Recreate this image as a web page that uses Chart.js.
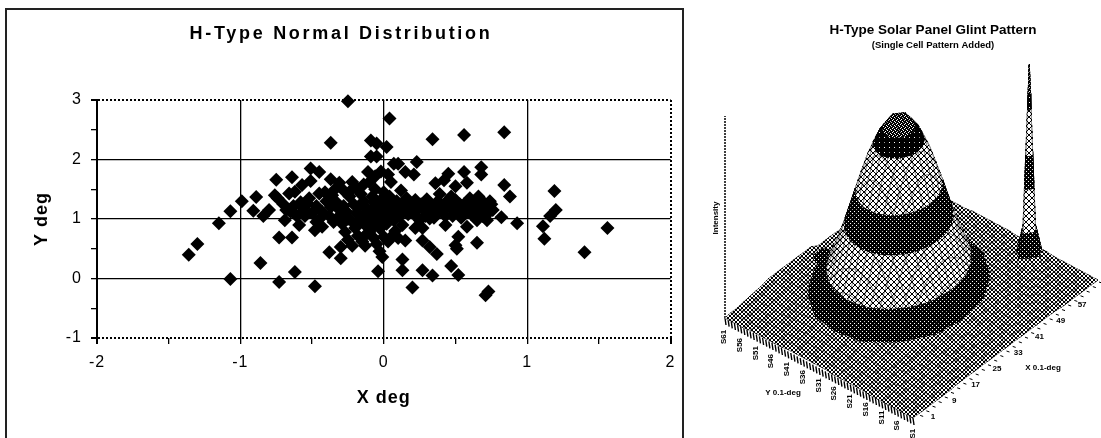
<!DOCTYPE html>
<html><head><meta charset="utf-8">
<style>
html,body{margin:0;background:#fff;overflow:hidden;width:1101px;height:438px}
#frame{position:absolute;left:5px;top:8px;width:675px;height:460px;border:2px solid #222}
#wrapL{position:absolute;left:0;top:0;width:684px;height:438px}
#wrapR{position:absolute;left:690px;top:0;width:486px;height:438px}
canvas{display:block}
#left{filter:blur(.3px)}
#right{filter:blur(.4px)}
</style>
<script src="https://cdn.jsdelivr.net/npm/chart.js@4/dist/chart.umd.min.js"></script>
</head><body>
<div id="frame"></div>
<div id="wrapL"><canvas id="left" width="684" height="438"></canvas></div>
<div id="wrapR"><canvas id="right" width="486" height="438"></canvas></div>
<script>
// ---------- left chart data ----------
const scatterX = [
-1.36,-1.30,-1.15,-1.07,-1.07,-.99,-.91,-.89,-.86,-.84,
-.80,-.76,-.75,-.74,-.73,-.73,-.69,-.68,-.66,-.65,
-.64,-.64,-.62,-.62,-.61,-.59,-.57,-.57,-.53,-.52,
-.51,-.51,-.48,-.48,-.47,-.45,-.45,-.43,-.40,-.38,
-.38,-.37,-.37,-.37,-.36,-.35,-.33,-.31,-.31,-.30,
-.30,-.29,-.28,-.27,-.26,-.25,-.25,-.24,-.23,-.22,
-.22,-.21,-.20,-.19,-.18,-.16,-.15,-.14,-.14,-.13,
-.12,-.11,-.11,-.10,-.10,-.09,-.09,-.09,-.08,-.07,
-.06,-.06,-.05,-.05,-.05,-.05,-.04,-.04,-.03,-.03,
-.02,-.02,-.01,.00,.00,.00,.01,.02,.02,.03,
.03,.03,.04,.04,.05,.06,.06,.07,.07,.08,
.09,.10,.10,.10,.11,.12,.13,.13,.13,.15,
.15,.16,.18,.20,.20,.21,.22,.22,.23,.24,
.25,.26,.27,.27,.27,.28,.30,.32,.32,.33,
.34,.34,.34,.35,.36,.37,.37,.39,.41,.42,
.43,.44,.45,.46,.47,.48,.50,.50,.50,.51,
.52,.52,.52,.54,.56,.56,.56,.58,.58,.58,
.60,.62,.64,.65,.65,.66,.68,.68,.68,.70,
.71,.72,.72,.73,.74,.75,.76,.82,.84,.84,
.88,.93,1.11,1.12,1.16,1.19,1.20,1.40,1.56,
-.58,-.55,-.50,-.47,-.43,-.41,-.34,-.32,-.28,-.25,
-.23,-.19,-.17,-.15,-.13,-.09,-.07,-.05,-.02,-.01,
.02,.05,.08,.12,.14,.17,.23,.29,.31,.38,
.40,.43,.47,.49,.53,.55,.61,.63,.67,.69,
-.70,-.63,-.56,-.44,-.18,-.12,-.08,-.01];
const scatterY = [
.40,.58,.93,1.13,-.01,1.30,1.14,1.37,.26,1.05,
1.15,1.40,1.66,1.35,.69,-.06,.98,1.15,1.43,1.12,
1.70,.69,1.46,.11,1.06,.90,1.57,1.12,1.26,1.35,
1.85,1.64,.81,-.13,.95,1.79,1.43,.87,1.30,1.05,
.44,2.28,1.67,1.20,1.40,.95,1.28,1.61,1.05,.53,
.34,.92,1.48,.78,1.12,2.98,.65,1.38,.98,1.62,
.55,1.25,.85,1.52,.72,1.42,.62,1.58,1.30,.55,
1.18,1.79,1.05,1.62,.78,2.32,2.05,.95,1.38,.68,
1.72,1.50,2.27,2.05,1.22,.58,1.10,.12,.85,.46,
1.80,1.32,.36,1.45,1.15,.70,1.02,2.21,.92,1.75,
1.25,.62,2.69,1.38,1.62,1.10,.72,1.93,.98,.80,
1.30,1.93,1.18,.68,1.05,1.48,.90,.32,.14,1.79,
.64,1.35,1.22,1.10,-.15,1.75,1.32,.85,1.96,1.02,
.98,1.25,.85,.64,.14,1.15,1.33,1.01,.53,1.20,
2.34,1.12,.05,1.02,1.60,1.28,.41,1.42,1.12,1.65,
.90,1.30,1.76,1.20,.21,1.05,1.55,1.32,.56,.50,
1.15,.70,.06,1.02,2.41,1.79,1.25,1.61,1.12,.87,
1.35,1.22,1.10,.98,.60,1.38,1.87,1.75,1.32,1.18,
-.28,1.08,.98,-.22,1.30,1.25,1.15,1.03,2.46,1.57,
1.38,.93,.88,.67,1.05,1.47,1.15,.44,.85,
1.28,1.05,1.10,1.22,1.12,1.45,1.50,1.18,1.22,1.00,
1.48,1.10,1.22,1.05,.90,1.12,1.28,.98,1.05,1.22,
1.12,1.28,1.18,1.15,1.25,1.08,1.15,1.05,1.22,1.12,
1.25,1.05,1.38,1.15,1.25,1.12,1.08,1.30,1.20,1.05,
1.25,1.22,1.18,1.02,.95,.75,.85,.88];

// ---------- right chart data ----------
// Surface heights, by cell distance from the main peak (rows: Y, columns: X)
const peakHeights = [
[178,175,165,150,130,105,78,55,34,19,9,6,4,3,2,2],
[175,171,162,147,127,102,76,53,33,18,9,6,4,3,2,2],
[165,162,153,138,118,94,70,49,30,17,8,5,4,3,2,2],
[150,147,138,124,105,83,62,43,26,15,8,5,4,3,2,2],
[130,127,118,105,87,68,50,33,20,11,7,5,3,2,2,1],
[105,102,94,83,68,53,37,25,15,8,5,4,3,2,2,1],
[78,76,70,62,50,37,26,17,9,6,5,4,3,2,2,1],
[55,53,49,43,33,25,17,10,7,5,4,3,2,2,1,1],
[34,33,30,26,20,15,9,7,5,4,3,2,2,2,1,1],
[19,18,17,15,11,8,6,5,4,3,2,2,2,1,1,1],
[9,9,8,8,7,5,5,4,3,2,2,2,1,1,1,0],
[6,6,5,5,5,4,4,3,2,2,2,1,1,1,1,0],
[4,4,4,4,3,3,3,2,2,2,1,1,1,1,0,0],
[3,3,3,3,2,2,2,2,2,1,1,1,1,0,0,0],
[2,2,2,2,2,2,2,2,1,1,1,1,0,0,0,0],
[2,2,2,2,1,1,1,1,1,1,1,0,0,0,0,0],
[1,1,1,1,1,1,1,1,1,1,0,0,0,0,0,0],
[1,1,1,1,1,1,1,1,1,0,0,0,0,0,0,0]];
const spikeHeights = [[8,30,8],[30,195,30],[8,30,8]];
// raised back-left shoulder of the surface (rows: Y cells 26..30, columns: X cells 0..14)
const shoulderHeights = [
[0,0,1,1,2,3,4,6,7,7,7,7,7,12,12],
[0,1,1,2,3,4,5,7,7,7,7,7,7,12,12],
[0,1,1,2,3,4,6,7,7,7,7,7,7,11,11],
[0,1,1,2,3,4,6,7,7,7,7,7,7,7,7],
[0,1,1,2,3,4,5,7,7,7,7,7,7,7,7]];
const xCategoryLabels = ['1','9','17','25','33','41','49','57'];
const yCategoryLabels = ['S61','S56','S51','S46','S41','S36','S31','S26','S21','S16','S11','S6','S1'];
const bandEdges = [0,8,30,72,105,150,165,1000];

const FONT = '"Liberation Sans", Arial, sans-serif';

// ---------- left chart ----------
const isInt = v => Math.abs(v - Math.round(v)) < 1e-6;
new Chart(document.getElementById('left'), {
  type: 'scatter',
  data: { datasets: [{
    label: 'H-Type',
    data: scatterX.map((x, k) => ({ x, y: scatterY[k] })),
    pointStyle: 'rectRot', pointRadius: 7,
    pointBackgroundColor: '#000', pointBorderColor: '#000', pointBorderWidth: 0, clip: false
  }]},
  options: {
    responsive: false, animation: false, events: [],
    layout: { padding: { right: 11 }, autoPadding: false },
    plugins: {
      legend: { display: false }, tooltip: { enabled: false },
      title: { display: true, text: 'H-Type Normal Distribution', color: '#000',
        font: { family: FONT, size: 18, weight: 'bold', lineHeight: 1 }, padding: { top: 25, bottom: 57 } }
    },
    scales: {
      x: { type: 'linear', min: -2, max: 2,
        afterFit: s => { s.height = 100; },
        ticks: { stepSize: .5, autoSkip: false, maxRotation: 0, padding: 9, color: '#000',
          font: { family: FONT, size: 16 }, callback: v => isInt(v) ? String(v) : '' },
        grid: { color: c => isInt(c.tick.value) ? '#000' : 'rgba(0,0,0,0)', lineWidth: c => Math.abs(c.tick.value) === 2 ? 2 : 1.3, tickColor: '#000', tickLength: 6 },
        border: { display: false, dash: c => c.tick && c.tick.value === 2 ? [2, 2] : [] },
        title: { display: true, text: 'X deg', color: '#000', font: { family: FONT, size: 18, weight: 'bold' }, padding: { top: 0, bottom: 29 } } },
      y: { type: 'linear', min: -1, max: 3,
        afterFit: s => { s.width = 97; },
        ticks: { stepSize: .5, autoSkip: false, padding: 9, color: '#000',
          font: { family: FONT, size: 16 }, callback: v => isInt(v) ? String(v) : '' },
        grid: { color: c => isInt(c.tick.value) ? '#000' : 'rgba(0,0,0,0)', lineWidth: c => (c.tick.value === 3 || c.tick.value === -1) ? 2 : 1.3, tickColor: '#000', tickLength: 6 },
        border: { display: true, color: '#000', width: 2, dash: c => c.tick && (c.tick.value === 3 || c.tick.value === -1) ? [2, 2] : [] },
        title: { display: true, text: 'Y deg', color: '#000', font: { family: FONT, size: 18, weight: 'bold' }, padding: { top: 31, bottom: 0 } } }
    }
  },
  plugins: [{
    id: 'spacing',
    beforeDraw(chart) {
      chart.ctx.letterSpacing = '1px';
      const t = chart.titleBlock;
      if (t && !t._patched) {
        const d = t.draw.bind(t);
        t.draw = a => { chart.ctx.save(); chart.ctx.translate(4.5, 0); chart.ctx.letterSpacing = '2.7px'; d(a); chart.ctx.restore(); };
        t._patched = true;
      }
    }
  }]
});

// ---------- right chart: surface ----------
const CELLS = 30, PEAK_I = 15, PEAK_J = 17, SPIKE_I = 28, SPIKE_J = 9, SHOULDER_J = 26;
const FRONT = { x: 913, y: 418 }, RIGHT = { x: 1098, y: 280 }, LEFTC = { x: 725, y: 318 };
function heightAt(i, j) {
  let h = peakHeights[Math.abs(j - PEAK_J)][Math.abs(i - PEAK_I)];
  const a = i - SPIKE_I + 1, b = j - SPIKE_J + 1;
  if (a >= 0 && a < 3 && b >= 0 && b < 3) h = Math.max(h, spikeHeights[b][a]);
  if (j >= SHOULDER_J && i < 15) h = Math.max(h, shoulderHeights[j - SHOULDER_J][i]);
  return h;
}
function project(i, j, h) {
  return {
    x: FRONT.x + i / CELLS * (RIGHT.x - FRONT.x) + j / CELLS * (LEFTC.x - FRONT.x),
    y: FRONT.y + i / CELLS * (RIGHT.y - FRONT.y) + j / CELLS * (LEFTC.y - FRONT.y) - h,
    h
  };
}
function tile(rows) {
  const c = document.createElement('canvas');
  c.width = rows[0].length; c.height = rows.length;
  const g = c.getContext('2d');
  g.fillStyle = '#fff'; g.fillRect(0, 0, c.width, c.height);
  g.fillStyle = '#000';
  rows.forEach((r, y) => [...r].forEach((ch, x) => { if (ch === '#') g.fillRect(x, y, 1, 1); }));
  return g.createPattern(c, 'repeat');
}
const pBase  = tile(['#..#','.##.','.##.','#..#']);
const pLight = tile(['#....#','.#..#.','..##..','..##..','.#..#.','#....#']);
const pDark  = tile(['####','##.#','####','.###']);
const pSolid = tile(['#####','#####','####.','#####','#####']);
const pCap   = tile(['##.#','.###','#.##','###.']);
const bandPatterns = [pBase, pDark, pLight, pDark, pLight, pSolid, pCap];

function clipBand(poly, lo, hi) {
  const cut = (pts, keep, lim) => {
    const out = [];
    pts.forEach((p, k) => {
      const q = pts[(k + 1) % pts.length];
      if (keep(p.h)) out.push(p);
      if (keep(p.h) !== keep(q.h)) {
        const t = (lim - p.h) / (q.h - p.h);
        out.push({ x: p.x + t * (q.x - p.x), y: p.y + t * (q.y - p.y), h: lim });
      }
    });
    return out;
  };
  let r = cut(poly, h => h >= lo, lo);
  if (r.length) r = cut(r, h => h <= hi, hi);
  return r;
}
const surfaceSets = [];
const quads = [];
for (let j = 0; j < CELLS; j++) for (let i = 0; i < CELLS; i++) quads.push([i, j]);
quads.sort((a, b) => (a[0] + a[1]) - (b[0] + b[1]));
for (const [i, j] of quads) {
  const poly = [[i, j], [i + 1, j], [i + 1, j + 1], [i, j + 1]].map(([a, b]) => project(a, b, heightAt(a, b)));
  surfaceSets.push({ data: [...poly, poly[0]], showLine: true, fill: false, borderColor: 'rgba(0,0,0,.7)', borderWidth: .6, pointRadius: 0, clip: false });
  bandPatterns.forEach((pat, b) => {
    const piece = clipBand(poly, bandEdges[b], bandEdges[b + 1]);
    if (piece.length > 2) surfaceSets.push({ data: [...piece, piece[0]], showLine: true, fill: 'shape', backgroundColor: pat, borderColor: pat, borderWidth: .8, pointRadius: 0, clip: false });
  });
}
// comb along the front edges and the intensity axis
const comb = [];
for (let k = 0; k <= CELLS * 2; k++) {
  const p = project(0, k / 2, 0);
  comb.push({ x: p.x, y: p.y }, { x: p.x + 1, y: p.y + 7 }, { x: NaN, y: NaN });
}
const comb2 = [];
for (let k = 1; k <= CELLS; k++) {
  const p = project(k, 0, 0);
  comb2.push({ x: p.x + 1, y: p.y + 2 }, { x: p.x + 4, y: p.y + 3 }, { x: NaN, y: NaN });
}
const axisTop = project(0, CELLS, 0);
const intensityAxis = [{ x: axisTop.x, y: axisTop.y }, { x: axisTop.x, y: axisTop.y - 202 }];

new Chart(document.getElementById('right'), {
  type: 'scatter',
  data: { datasets: [
    ...surfaceSets,
    { data: comb, showLine: true, borderColor: '#000', borderWidth: 1.4, pointRadius: 0, spanGaps: false, clip: false },
    { data: comb2, showLine: true, borderColor: '#000', borderWidth: 1, pointRadius: 0, spanGaps: false, clip: false },
    { data: intensityAxis, showLine: true, borderColor: '#000', borderWidth: 1.5, borderDash: [2, 1], pointRadius: 0, clip: false }
  ]},
  options: {
    responsive: false, animation: false, events: [],
    layout: { padding: 0, autoPadding: false },
    plugins: {
      legend: { display: false }, tooltip: { enabled: false },
      title: { display: true, text: 'H-Type Solar Panel Glint Pattern', color: '#000',
        font: { family: FONT, size: 13.5, weight: 'bold', lineHeight: 1 }, padding: { top: 24, bottom: 2.5 } },
      subtitle: { display: true, text: '(Single Cell Pattern Added)', color: '#000',
        font: { family: FONT, size: 9.5, weight: 'bold', lineHeight: 1 }, padding: { top: 1, bottom: 9.5 } }
    },
    scales: {
      x: { type: 'linear', display: false, min: 690, max: 1176 },
      y: { type: 'linear', display: false, min: 60, max: 438, reverse: true }
    }
  },
  plugins: [{
    id: 'surfaceLabels',
    afterDatasetsDraw(chart) {
      const g = chart.ctx, sx = chart.scales.x, sy = chart.scales.y;
      g.save();
      g.fillStyle = '#000';
      g.font = 'bold 8px ' + FONT;
      g.textAlign = 'center'; g.textBaseline = 'middle';
      xCategoryLabels.forEach((t, k) => g.fillText(t, sx.getPixelForValue(933 + 21.3 * k), sy.getPixelForValue(417 - 16 * k)));
      yCategoryLabels.forEach((t, k) => {
        g.save();
        g.translate(sx.getPixelForValue(724 + 15.75 * k), sy.getPixelForValue(337 + 8.05 * k));
        g.rotate(-Math.PI / 2);
        g.fillText(t, 0, 0);
        g.restore();
      });
      g.fillText('Y 0.1-deg', sx.getPixelForValue(783), sy.getPixelForValue(393));
      g.fillText('X 0.1-deg', sx.getPixelForValue(1043), sy.getPixelForValue(368));
      g.save();
      g.translate(sx.getPixelForValue(716), sy.getPixelForValue(218));
      g.rotate(-Math.PI / 2);
      g.fillText('Intensity', 0, 0);
      g.restore();
      g.restore();
    }
  }]
});
</script>
</body></html>
